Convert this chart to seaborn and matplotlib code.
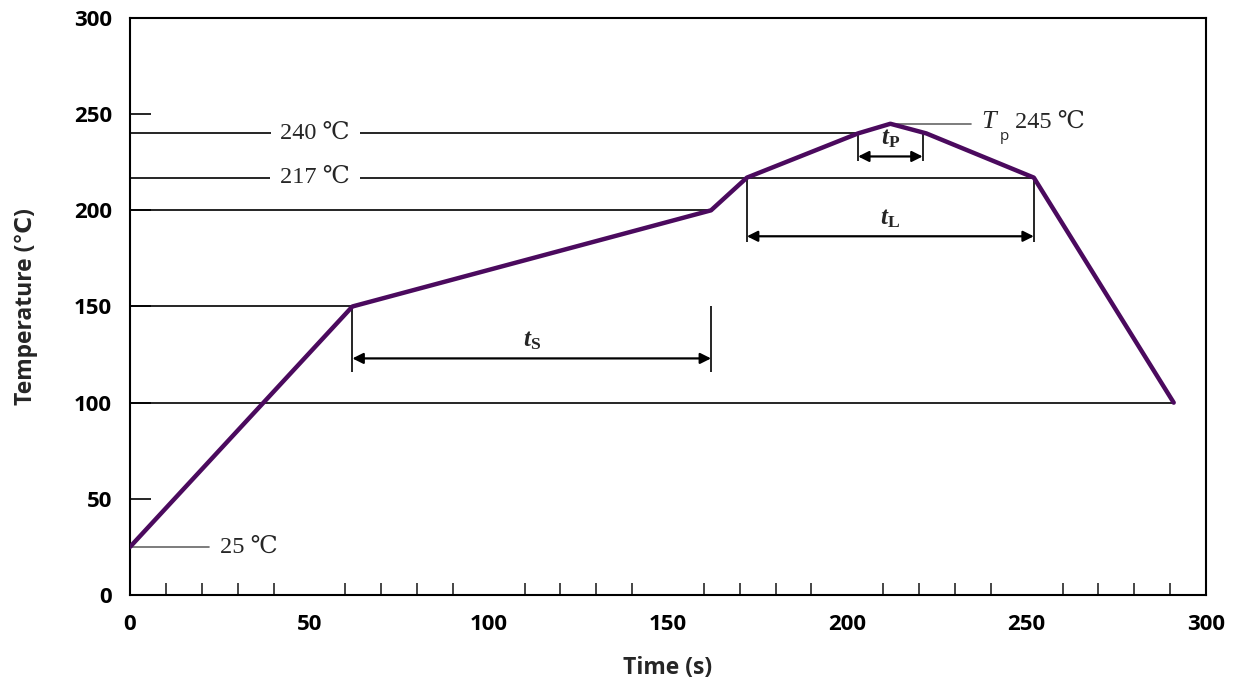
import numpy as np
import pandas as pd
import seaborn as sns
import matplotlib.pyplot as plt
from matplotlib.ticker import MultipleLocator

# reflow profile vertices
time_s = [0, 62, 162, 172, 203, 212, 222, 252, 291]
temp_c = [25, 150, 200, 217, 240, 245, 240, 217, 100]

# reference lines: (temperature, x start, x end)
ref_temps = [240, 217, 200, 150, 100]
ref_start = [0, 0, 0, 0, 0]
ref_end = [203, 252, 162, 62, 291]

# interval markers
span_names = ["S", "L", "P"]
span_start = [62, 172, 203]
span_end = [162, 252, 221]
span_arrow_y = [123, 186.5, 228]
span_guide_low = [116, 183.5, 225.5]
span_guide_high = [150, 217, 240]

x_ticks = [0, 50, 100, 150, 200, 250, 300]
y_ticks = [0, 50, 100, 150, 200, 250, 300]

sns.set_theme(style="white")
plt.rcParams["font.family"] = ["Open Sans", "DejaVu Sans"]
plt.rcParams["mathtext.fontset"] = "custom"
plt.rcParams["mathtext.rm"] = "Liberation Serif"
plt.rcParams["mathtext.it"] = "Liberation Serif:italic"
plt.rcParams["mathtext.bf"] = "Liberation Serif:bold"
plt.rcParams["mathtext.bfit"] = "Liberation Serif:italic:bold"

serif = ["Liberation Serif", "DejaVu Serif"]

df = pd.DataFrame({"Time (s)": time_s, "Temperature": temp_c})

fig = plt.figure(figsize=(12.35, 6.81), dpi=100)
ax = fig.add_axes([0.1053, 0.1263, 0.8712, 0.8473])

# horizontal reference lines
ax.hlines(ref_temps, ref_start, ref_end, colors="black", linewidth=1.2, zorder=2)

# guides and arrows
for name, xs, xe, ya, yl, yh in zip(span_names, span_start, span_end,
                                     span_arrow_y, span_guide_low, span_guide_high):
    ax.vlines([xs, xe], yl, yh, colors="black", linewidth=1.2, zorder=2)
    ax.annotate("", xy=(xs, ya), xytext=(xe, ya),
                arrowprops=dict(arrowstyle="<|-|>", color="black", lw=1.6,
                                mutation_scale=16, shrinkA=0, shrinkB=0))
    ax.text((xs + xe) / 2, ya + 3, r"$\mathbfit{t}_{\mathbf{%s}}$" % name,
            ha="center", va="bottom", fontsize=18)

# profile
sns.lineplot(data=df, x="Time (s)", y="Temperature", color="#4b0a5e",
             linewidth=3.2, ax=ax, zorder=4, sort=False)

# labels on reference lines
for t in [240, 217]:
    ax.text(51.6, t, f"{t} ℃", family=serif, fontsize=17.5, ha="center", va="center",
            bbox=dict(facecolor="white", edgecolor="none", pad=7), zorder=3)

# 25 C and Tp callouts
ax.plot([0, 22], [25, 25], color="#666666", linewidth=1.2, zorder=3)
ax.text(25.2, 25, "25 ℃", family=serif, fontsize=17.5, ha="left", va="center")
ax.plot([212, 234.6], [245, 245], color="#666666", linewidth=1.2, zorder=3)
ax.text(237.4, 246, r"$T$", fontsize=19, ha="left", va="center")
ax.text(242.4, 238.5, "p", fontsize=11, ha="left", va="center")
ax.text(246.8, 245.5, "245 ℃", family=serif, fontsize=17.5, ha="left", va="center")

ax.set_xlim(0, 300)
ax.set_ylim(0, 300)
ax.set_xticks(x_ticks)
ax.set_yticks(y_ticks)
ax.xaxis.set_minor_locator(MultipleLocator(10))
ax.tick_params(axis="x", which="major", direction="in", length=16, width=1.2,
               pad=14, labelsize=16, colors="black")
ax.tick_params(axis="x", which="minor", direction="in", length=9, width=1.2,
               bottom=True)
ax.tick_params(axis="y", which="major", direction="in", length=15, width=1.2,
               pad=13, labelsize=16, colors="black", left=True)
ax.set_xticklabels(x_ticks, fontweight="bold", fontsize=16)
ax.set_yticklabels(y_ticks, fontweight="bold", fontsize=16)

ax.set_xlabel("Time (s)", fontsize=16.5, fontweight="bold", labelpad=15)
ax.set_ylabel("Temperature (℃)", fontsize=16.5, fontweight="bold", labelpad=26)

for s in ax.spines.values():
    s.set_visible(True)
    s.set_color("black")
    s.set_linewidth(1.5)

fig.savefig("out.png", dpi=100)
